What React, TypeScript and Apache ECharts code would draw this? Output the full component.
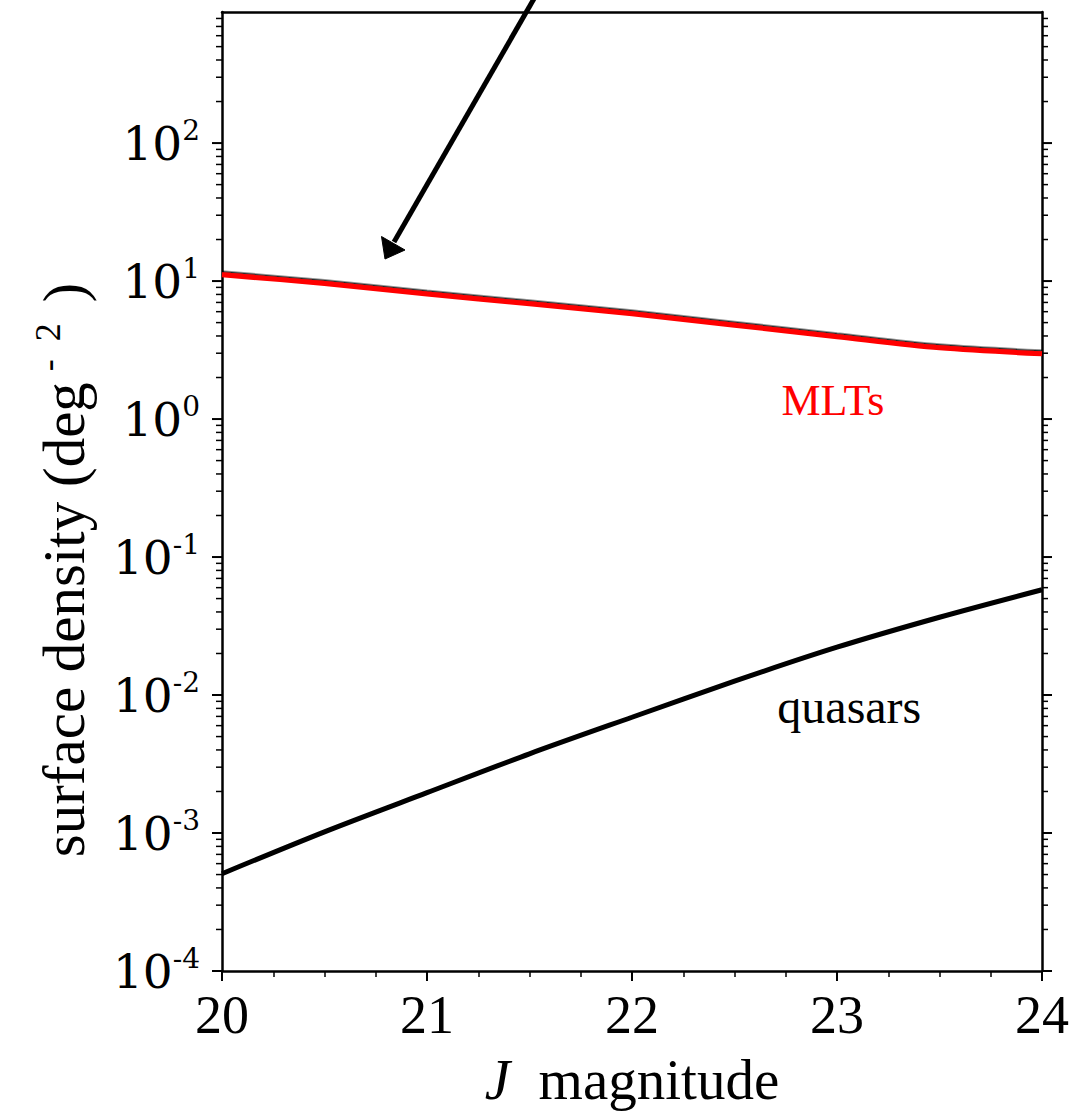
import React, { useEffect, useRef } from 'react';
import * as echarts from 'echarts';

// ---- data ----
const jMag = [20, 20.5, 21, 21.5, 22, 22.5, 23, 23.5, 24];
const mltDensity = [11.1, 9.6, 8.07, 6.84, 5.79, 4.79, 3.95, 3.28, 2.97];
const quasarDensity = [5.07e-4, 1.02e-3, 1.96e-3, 3.75e-3, 6.9e-3, 0.0126, 0.0222, 0.0366, 0.0579];
const xMin = 20;
const xMax = 24;
const yMin = 1e-4;
const yMax = 891;
const decades = [-4, -3, -2, -1, 0, 1, 2];
const mltLabel = { text: 'MLTs', j: 22.98, v: 1.365 };
const quasarLabel = { text: 'quasars', j: 23.06, v: 0.0082 };

const SERIF = '"Liberation Serif", "Times New Roman", serif';
const SERIF_WIDE = '"DejaVu Serif", serif';

export default function App() {
  const ref = useRef<HTMLDivElement>(null);

  useEffect(() => {
    document.body.style.margin = '0';
    if (!ref.current) return;
    const chart = echarts.init(ref.current, undefined, { renderer: 'svg' });

    // log-axis tick positions (major = 10^n, minor = k*10^n)
    const yTicks: number[][] = [];
    decades.forEach((n) => {
      for (let k = 1; k <= 9; k++) {
        const v = k * Math.pow(10, n);
        if (v >= yMin && v <= yMax) yTicks.push([xMin, v, k === 1 ? 1 : 0]);
      }
    });

    const lineData = (ys: number[]) => jMag.map((j, i) => [j, ys[i]]);

    chart.setOption({
      animation: false,
      backgroundColor: '#fff',
      grid: { left: 222, right: 38, top: 12, bottom: 140.5, containLabel: false },
      xAxis: [
        {
          type: 'value',
          min: xMin,
          max: xMax,
          interval: 1,
          position: 'bottom',
          axisLine: { show: true, onZero: false, lineStyle: { color: '#000', width: 2.5 } },
          axisTick: { show: true, inside: false, length: 10, lineStyle: { color: '#000', width: 2 } },
          minorTick: { show: true, splitNumber: 4, length: 6, lineStyle: { color: '#000', width: 1.5 } },
          splitLine: { show: false },
          minorSplitLine: { show: false },
          axisLabel: { color: '#000', fontFamily: SERIF, fontSize: 54, margin: 17 },
          name: '{i|J}  magnitude',
          nameLocation: 'middle',
          nameGap: 80,
          nameTextStyle: {
            color: '#000',
            fontFamily: SERIF,
            fontSize: 57,
            rich: { i: { fontStyle: 'italic', fontFamily: SERIF, fontSize: 57, color: '#000' } },
          },
        },
        {
          type: 'value',
          min: xMin,
          max: xMax,
          position: 'top',
          axisLine: { show: true, onZero: false, lineStyle: { color: '#000', width: 2.5 } },
          axisTick: { show: false },
          axisLabel: { show: false },
          splitLine: { show: false },
        },
      ],
      yAxis: [
        {
          type: 'log',
          logBase: 10,
          min: yMin,
          max: yMax,
          splitNumber: 7,
          position: 'left',
          axisLine: { show: true, lineStyle: { color: '#000', width: 2.5 } },
          axisTick: { show: false },
          splitLine: { show: false },
          axisLabel: {
            margin: 22,
            showMaxLabel: false,
            formatter: (val: number) => {
              const e = Math.log10(val);
              const r = Math.round(e);
              if (Math.abs(e - r) > 0.01) return '';
              return '{b|10}{s|' + (r < 0 ? '-' + Math.abs(r) : String(r)) + '}';
            },
            rich: {
              b: { fontFamily: SERIF_WIDE, fontSize: 47, color: '#000' },
              s: { fontFamily: SERIF_WIDE, fontSize: 28, color: '#000', padding: [0, 0, 26, 0] },
            },
          },
        },
        {
          type: 'log',
          logBase: 10,
          min: yMin,
          max: yMax,
          position: 'right',
          axisLine: { show: true, lineStyle: { color: '#000', width: 2.5 } },
          axisTick: { show: false },
          axisLabel: { show: false },
          splitLine: { show: false },
        },
      ],
      series: [
        {
          name: 'quasars',
          type: 'line',
          xAxisIndex: 0,
          yAxisIndex: 0,
          data: lineData(quasarDensity),
          smooth: 0.3,
          showSymbol: false,
          lineStyle: { color: '#000', width: 5 },
          z: 3,
          markPoint: {
            symbol: 'circle',
            symbolSize: 0,
            silent: true,
            data: [
              {
                coord: [quasarLabel.j, quasarLabel.v],
                label: {
                  show: true,
                  position: 'inside',
                  formatter: quasarLabel.text,
                  color: '#000',
                  fontFamily: SERIF,
                  fontSize: 48,
                },
              },
            ],
          },
        },
        {
          name: 'MLTs',
          type: 'line',
          xAxisIndex: 0,
          yAxisIndex: 0,
          data: lineData(mltDensity),
          smooth: 0.3,
          showSymbol: false,
          lineStyle: {
            color: '#ff0000',
            width: 5,
            shadowColor: 'rgba(0,0,0,0.85)',
            shadowOffsetY: -1.5,
            shadowBlur: 1,
          },
          z: 4,
          markPoint: {
            symbol: 'circle',
            symbolSize: 0,
            silent: true,
            data: [
              {
                coord: [mltLabel.j, mltLabel.v],
                label: {
                  show: true,
                  position: 'inside',
                  formatter: mltLabel.text,
                  color: '#ff0000',
                  fontFamily: SERIF,
                  fontSize: 44,
                },
              },
            ],
          },
        },
        {
          name: 'yticks',
          type: 'custom',
          coordinateSystem: 'cartesian2d',
          xAxisIndex: 0,
          yAxisIndex: 0,
          clip: false,
          silent: true,
          data: yTicks,
          encode: { x: 0, y: 1 },
          z: 6,
          renderItem: (params: any, api: any) => {
            const v = api.value(1);
            const major = api.value(2) === 1;
            const left = api.coord([xMin, v]);
            const right = api.coord([xMax, v]);
            const len = major ? 10 : 6;
            const style = { stroke: '#000', lineWidth: major ? 2 : 1.5 };
            return {
              type: 'group',
              children: [
                { type: 'line', shape: { x1: left[0] - len, y1: left[1], x2: left[0], y2: left[1] }, style },
                { type: 'line', shape: { x1: right[0], y1: right[1], x2: right[0] + len, y2: right[1] }, style },
              ],
            };
          },
        },
      ],
      graphic: [
        {
          type: 'text',
          x: 64,
          y: 570,
          rotation: Math.PI / 2,
          style: {
            text: '{a|surface density (deg}{s| -  2}{a| )}',
            align: 'center',
            verticalAlign: 'middle',
            fill: '#000',
            font: '59px "Liberation Serif"',
            rich: {
              a: { fontFamily: SERIF, fontSize: 59, fill: '#000' },
              s: { fontFamily: SERIF, fontSize: 36, fill: '#000', padding: [0, 6, 32, 2] },
            },
          },
          z: 10,
        },
        {
          type: 'line',
          shape: { x1: 539, y1: -10, x2: 394, y2: 242 },
          style: { stroke: '#000', lineWidth: 5 },
          z: 10,
        },
        {
          type: 'polygon',
          shape: { points: [[385, 259], [381.5, 236.5], [405, 250]] },
          style: { fill: '#000', stroke: '#000', lineWidth: 1 },
          z: 10,
        },
      ],
    });

    return () => chart.dispose();
  }, []);

  return (
    <div
      ref={ref}
      style={{ width: 1080, height: 1113, position: 'absolute', left: 0, top: 0, background: '#fff' }}
    />
  );
}
